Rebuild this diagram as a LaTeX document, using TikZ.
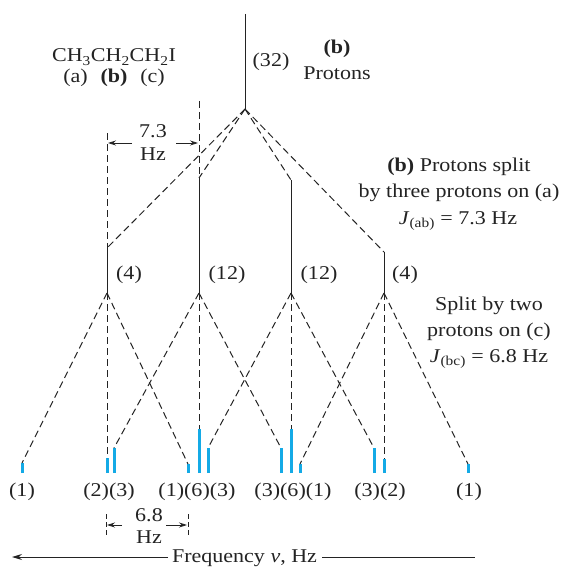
\documentclass[tikz,border=0pt]{standalone}
\usepackage{fontspec}
\setmainfont{Liberation Serif}[FakeStretch=1.13]
\usetikzlibrary{arrows.meta}
\definecolor{peak}{RGB}{20,170,230}
\definecolor{ink}{RGB}{35,35,35}
\begin{document}
\begin{tikzpicture}[x=1pt,y=-1pt,
  font=\fontsize{19.5}{23}\selectfont,
  every node/.style={text=ink},
  dsh/.style={draw=ink, line width=1pt, dash pattern=on 7pt off 4pt},
  sdsh/.style={draw=ink, line width=0.8pt, dash pattern=on 5pt off 3pt},
  sol/.style={draw=ink, line width=1pt},
  pk/.style={draw=peak, line width=3pt},
  lbl/.style={inner sep=0pt, anchor=base},
  dimarrow/.style={draw=ink, line width=0.8pt, -{Stealth[length=8pt,width=5pt]}},
  freqarrow/.style={draw=ink, line width=1pt, -{Stealth[length=10pt,width=6pt]}}]
\useasboundingbox (0,0) rectangle (563,567);

% top line
\coordinate (top) at (245,14);
\coordinate (apex) at (245,109);
\draw[sol] (top) -- (apex);

% first level
\coordinate (A1) at (107,248);
\coordinate (B1) at (199,178);
\coordinate (C1) at (291,180);
\coordinate (D1) at (384,252);
\coordinate (A2) at (107,293);
\coordinate (B2) at (199,293);
\coordinate (C2) at (291,293);
\coordinate (D2) at (384,293);
\foreach \n in {A,B,C,D}{
  \draw[dsh] (apex) -- (\n1);
  \draw[sol] (\n1) -- (\n2);
}

% peaks: name / x / top
\foreach \p/\x/\t in {a1/22/463, a2/107/458, a3/188/464,
                      b1/114/448, b2/199/429, b3/281/448,
                      c1/208/448, c2/291/429, c3/374/448,
                      d1/300/464, d2/384/459, d3/468/464}{
  \coordinate (\p t) at (\x,\t);
  \coordinate (\p b) at (\x,473);
  \draw[pk] (\p b) -- (\p t);
}
\foreach \n/\m in {A/a,B/b,C/c,D/d}{
  \draw[dsh] (\n2) -- (\m1t);
  \draw[dsh] (\n2) -- (\m2t);
  \draw[dsh] (\n2) -- (\m3t);
}

% top texts
\node[lbl] (formula) at (114,62) {CH\textsubscript{3}CH\textsubscript{2}CH\textsubscript{2}I};
\node[lbl] (la) at (75.5,83) {(a)};
\node[lbl] (lb) at (114,83) {\textbf{(b)}};
\node[lbl] (lc) at (152.5,83) {(c)};
\node[lbl] (n32) at (271,67) {(32)};
\node[lbl] (pb) at (337,54) {\textbf{(b)}};
\node[lbl] (pp) at (337,80) {Protons};

% first level labels
\node[lbl] (n4a) at (129,279) {(4)};
\node[lbl] (n12a) at (227,279) {(12)};
\node[lbl] (n12b) at (319,279) {(12)};
\node[lbl] (n4b) at (405,279) {(4)};

% right explanations
\node[lbl] (r1) at (459,171) {\textbf{(b)} Protons split};
\node[lbl] (r2) at (459,197) {by three protons on (a)};
\node[lbl] (r3) at (458,224) {\textit{J}\textsubscript{(ab)} = 7.3 Hz};
\node[lbl] (s1) at (489,310) {Split by two};
\node[lbl] (s2) at (489,336) {protons on (c)};
\node[lbl] (s3) at (489,362) {\textit{J}\textsubscript{(bc)} = 6.8 Hz};

% 7.3 Hz dimension
\coordinate (dA) at (107,133);
\coordinate (dB) at (199,101);
\draw[dsh] (dA) -- (A1);
\draw[dsh] (dB) -- (B1);
\node[lbl] (t73) at (153,138) {7.3};
\node[lbl] (t73hz) at (153,160) {Hz};
\coordinate (a73l0) at (132,143);
\coordinate (a73l1) at (108,143);
\coordinate (a73r0) at (176,143);
\coordinate (a73r1) at (198,143);
\draw[dimarrow] (a73l0) -- (a73l1);
\draw[dimarrow] (a73r0) -- (a73r1);

% peak labels
\node[lbl] (q1) at (22,496) {(1)};
\node[lbl] (q2) at (109,496) {(2)(3)};
\node[lbl] (q3) at (197,496) {(1)(6)(3)};
\node[lbl] (q4) at (293,496) {(3)(6)(1)};
\node[lbl] (q5) at (380,496) {(3)(2)};
\node[lbl] (q6) at (469,496) {(1)};

% 6.8 Hz dimension
\coordinate (e1t) at (106,514);
\coordinate (e1b) at (106,536);
\coordinate (e2t) at (188,514);
\coordinate (e2b) at (188,536);
\draw[sdsh] (e1t) -- (e1b);
\draw[sdsh] (e2t) -- (e2b);
\node[lbl] (t68) at (149,521) {6.8};
\node[lbl] (t68hz) at (149,543) {Hz};
\coordinate (a68l0) at (122,525);
\coordinate (a68l1) at (107,525);
\coordinate (a68r0) at (166,525);
\coordinate (a68r1) at (187,525);
\draw[dimarrow] (a68l0) -- (a68l1);
\draw[dimarrow] (a68r0) -- (a68r1);

% frequency axis
\node[lbl] (freq) at (244.5,562.5) {Frequency \textit{ν}, Hz};
\coordinate (fl0) at (168,557);
\coordinate (fl1) at (12,557);
\coordinate (fr0) at (322,557);
\coordinate (fr1) at (475,557);
\draw[freqarrow] (fl0) -- (fl1);
\draw[sol] (fr0) -- (fr1);
\end{tikzpicture}
\end{document}
